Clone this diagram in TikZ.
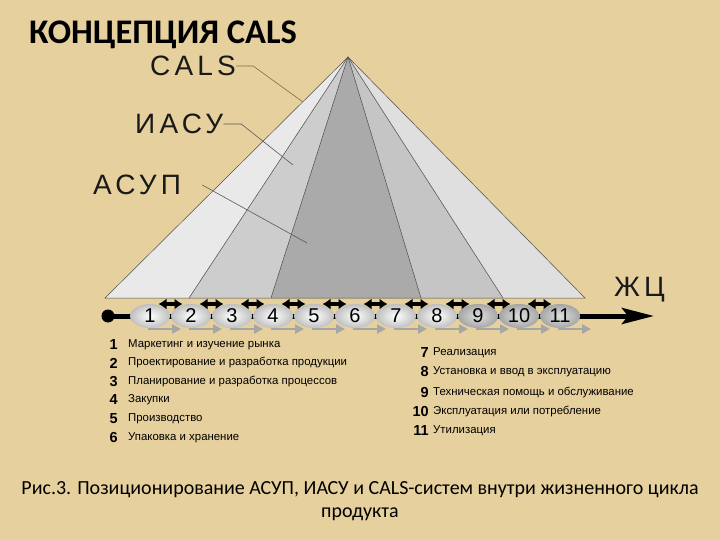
\documentclass[tikz,border=0pt]{standalone}
\usepackage{fontspec}
\setmainfont{Liberation Sans}
\newfontfamily\capfont{Carlito}
\newfontfamily\widefont[LetterSpace=15]{Liberation Sans}
\usetikzlibrary{positioning,arrows.meta,calc}
\definecolor{cParch}{HTML}{E6D09D}
\definecolor{cOuter}{HTML}{E6E6E6}
\definecolor{cMid}{HTML}{CDCDCD}
\definecolor{cCore}{HTML}{AAAAAA}
\definecolor{cLead}{HTML}{8A6A3C}
\tikzset{
  edge/.style={draw=black!70,line width=0.5pt},
  sysname/.style={font=\widefont\fontsize{28}{30}\selectfont,text=black!90,inner sep=0pt,anchor=west},
  stage/.style={ellipse,minimum width=40pt,minimum height=24pt,inner sep=0pt,
    inner color=white,outer color=gray!50,font=\fontsize{20}{20}\selectfont},
  stagedark/.style={stage,inner color=gray!25,outer color=gray!70},
  swap/.style={line width=3.2pt,{Latex[length=8pt,width=11pt]}-{Latex[length=8pt,width=11pt]}},
  shadowarr/.style={draw=gray!70,line width=2.6pt,-{Triangle[length=9pt,width=9pt]}},
  legnum/.style={font=\bfseries\fontsize{14.5}{14}\selectfont,inner sep=0pt,anchor=east},
  legtext/.style={font=\fontsize{11.4}{12}\selectfont,inner sep=0pt}
}
\usetikzlibrary{shapes.geometric}
\begin{document}
\begin{tikzpicture}[x=1pt,y=-1pt]
\fill[cParch] (0,0) rectangle (720,540);
\useasboundingbox (0,0) rectangle (720,540);

% title
\node[font=\capfont\bfseries\fontsize{34.5}{36}\selectfont,anchor=west,inner sep=0pt] (title) at (29,35) {КОНЦЕПЦИЯ CALS};

% pyramid
\coordinate (apex) at (348,57);
\coordinate (bL) at (105,298);
\coordinate (bML) at (189,298);
\coordinate (bCL) at (271,298);
\coordinate (bCR) at (421,298);
\coordinate (bMR) at (503,298);
\coordinate (bR) at (585,298);
\fill[cOuter!90!white] (apex) -- (bL) -- (bML) -- cycle;
\fill[cOuter!97!black] (apex) -- (bMR) -- (bR) -- cycle;
\fill[cMid] (apex) -- (bML) -- (bCL) -- cycle;
\fill[cMid!96!black] (apex) -- (bCR) -- (bMR) -- cycle;
\fill[cCore] (apex) -- (bCL) -- (bCR) -- cycle;
\draw[edge] (bL) -- (apex) -- (bR) -- cycle;
\foreach \b in {bML,bCL,bCR,bMR}
  \draw[edge] (apex) -- (\b);

% system labels
\node[sysname] (lcals) at (150,66) {CALS};
\node[sysname] (liasu) at (135,124) {ИАСУ};
\node[sysname] (lasup) at (93,185) {АСУП};
\coordinate (pcals) at (303,102);
\coordinate (piasu) at (293,165);
\coordinate (pasup) at (307,243);
\draw[cLead,line width=0.6pt] (lcals.east) -- ++(17,0) -- (pcals);
\draw[black!65,line width=0.6pt] (liasu.east) -- ++(18,0) -- (piasu);
\draw[black!65,line width=0.6pt] ($(lasup.east)+(21,0)$) -- (pasup);

% life cycle axis
\coordinate (start) at (108,316);
\coordinate (tip) at (654,316);
\draw[line width=5pt,-{Stealth[length=32pt,width=16pt,inset=6pt]}] (start) -- (tip);
\fill (start) circle (6.5pt);
\node[sysname] (lc) at (614,290) {ЖЦ};

\foreach \i in {1,...,11}
  \coordinate (c\i) at ({150+41*(\i-1)},316);
\foreach \i in {1,...,11}
  \draw[shadowarr] ($(c\i)+(-2,13)$) -- ++(33,0);
\foreach \i in {1,...,8}
  \node[stage] (s\i) at (c\i) {\i};
\foreach \i in {9,10,11}
  \node[stagedark] (s\i) at (c\i) {\i};
\foreach \i [count=\j from 2] in {1,...,10}
  \draw[swap] ($(s\i)!0.5!(s\j)+(-12,-12)$) -- ($(s\i)!0.5!(s\j)+(12,-12)$);

% legend
\foreach \n/\y/\t in {1/345/Маркетинг и изучение рынка,
                      2/363/Проектирование и разработка продукции,
                      3/382/Планирование и разработка процессов,
                      4/400/Закупки,
                      5/419/Производство,
                      6/438/Упаковка и хранение}{
  \node[legnum] (n\n) at (118,\y) {\n};
  \node[legtext,right=10pt of n\n.east,anchor=west] (t\n) {\t};
}
\foreach \n/\y/\t in {7/353/Реализация,
                      8/372/Установка и ввод в эксплуатацию,
                      9/393/Техническая помощь и обслуживание,
                      10/412/Эксплуатация или потребление,
                      11/431/Утилизация}{
  \node[legnum] (n\n) at (429,\y) {\n};
  \node[legtext,right=4pt of n\n.east,anchor=west] (t\n) {\t};
}

% caption
\node[font=\capfont\fontsize{20}{23}\selectfont,align=center,inner sep=0pt] (caption) at (360,501)
  {Рис.3. Позиционирование АСУП, ИАСУ и CALS-систем внутри жизненного цикла\\продукта};
\end{tikzpicture}
\end{document}
